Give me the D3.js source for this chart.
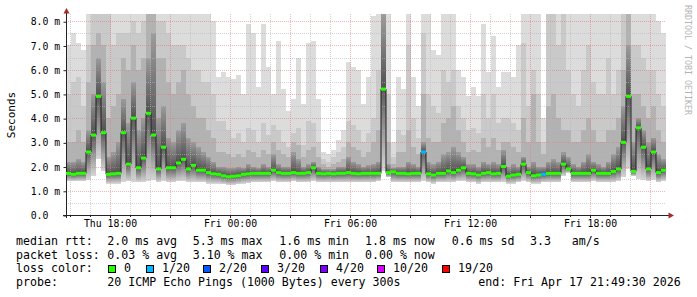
<!DOCTYPE html>
<html>
<head>
<meta charset="utf-8">
<script src="https://cdn.jsdelivr.net/npm/d3@7"></script>
<style>
body{margin:0;background:#fff}
svg{display:block}
text{font-family:"DejaVu Sans Mono",monospace;white-space:pre}
</style>
</head>
<body>
<div id="grafica"></div>
<script>
// periodo de la grafica: 30 h, columnas de 15 min
var inicio=new Date(2026,3,16,15,49,30), fin=new Date(2026,3,17,21,49,30);
var paso=15;

// mediana del rtt (ms) por columna
var mediana=[1.72,1.68,1.72,1.72,2.6,3.3,4.9,3.4,1.68,1.7,
	1.72,3.4,2.1,4.0,1.95,2.35,4.2,3.3,1.9,2.8,
	1.95,1.95,2.15,2.3,1.9,2.05,1.85,1.85,1.75,1.7,
	1.68,1.62,1.58,1.6,1.62,1.68,1.7,1.72,1.72,1.72,
	1.72,1.85,1.75,1.72,1.72,1.75,1.72,1.72,1.75,1.95,
	1.72,1.7,1.72,1.7,1.72,1.72,1.75,1.72,1.7,1.72,
	1.72,1.72,1.72,5.2,1.75,1.78,1.72,1.72,1.7,1.72,
	1.72,2.6,1.7,1.65,1.72,1.72,1.82,1.75,1.85,1.95,
	1.72,1.7,1.65,1.72,1.75,1.7,1.72,2.0,1.6,1.65,
	1.68,2.1,1.75,1.62,1.65,1.68,1.72,1.72,1.72,2.1,
	1.9,1.72,1.72,1.72,1.72,1.85,1.72,1.72,1.72,1.8,
	1.9,3.0,4.9,1.8,3.6,2.8,1.9,2.6,1.75,1.85];

// ping mas rapido
var minimo=[1.4,1.4,1.4,1.4,1.45,1.6,2.3,1.8,1.3,1.3,
	1.3,1.35,1.4,1.35,1.35,1.35,1.4,1.45,1.35,1.4,
	1.35,1.35,1.4,1.4,1.35,1.35,1.35,1.35,1.3,1.3,
	1.3,1.28,1.25,1.25,1.28,1.3,1.32,1.35,1.35,1.35,
	1.35,1.4,1.35,1.35,1.35,1.4,1.35,1.35,1.35,1.4,
	1.35,1.35,1.35,1.35,1.35,1.35,1.35,1.35,1.35,1.35,
	1.35,1.35,1.4,1.8,1.55,1.35,1.35,1.35,1.35,1.35,
	1.35,1.4,1.35,1.3,1.35,1.35,1.35,1.35,1.4,1.4,
	1.35,1.35,1.3,1.35,1.35,1.35,1.35,1.35,1.3,1.3,
	1.35,1.4,1.35,1.3,1.3,1.35,1.35,1.35,1.35,1.6,
	1.75,1.35,1.35,1.35,1.35,1.4,1.35,1.35,1.35,1.35,
	1.4,1.55,1.9,1.6,1.5,1.45,1.4,1.45,1.35,1.4];

// humo: bordes superiores de las bandas (oscura, media, clara, maximo)
var humo1=[2.2,2.2,2.3,2.2,3.5,5.0,6.5,5.5,2.4,2.6,
	3.0,4.8,3.8,5.5,3.5,4.0,6.5,7.5,4.0,4.5,
	3.2,3.0,3.5,3.8,3.2,3.0,2.8,2.6,2.4,2.2,
	2.0,2.0,1.95,1.95,2.0,1.95,2.1,2.0,1.95,2.1,
	2.0,2.5,2.1,2.0,2.0,2.6,2.3,2.0,2.1,2.2,
	2.0,1.9,1.9,1.9,2.0,2.0,2.4,2.2,2.1,2.0,
	2.05,2.1,2.2,8.3,2.1,1.95,2.0,2.0,2.2,2.1,
	2.0,3.0,2.2,2.1,2.2,2.5,2.6,2.8,2.6,2.4,
	2.1,2.1,2.0,2.2,2.1,2.2,2.1,2.7,2.0,2.1,
	2.0,2.4,2.0,2.2,2.0,2.0,2.2,2.3,2.2,2.6,
	2.4,2.1,2.0,2.2,2.5,2.2,2.1,2.0,2.2,2.5,
	2.8,4.5,7.0,3.0,4.0,3.5,3.0,3.2,2.5,2.3];

var humo2=[3.0,3.0,3.5,3.0,5.5,7.0,7.5,7.0,4.0,4.5,
	5.0,6.5,6.0,7.0,6.0,6.5,8.3,8.3,6.5,6.5,
	5.5,5.0,5.5,6.0,5.0,4.5,4.0,4.0,3.5,3.2,
	2.6,2.6,2.5,2.4,2.5,2.4,2.7,2.6,2.4,2.7,
	2.5,3.0,2.7,2.5,2.4,3.0,2.9,2.4,2.7,2.8,
	2.4,2.1,2.0,2.1,2.2,2.3,3.0,2.8,2.7,2.4,
	2.6,3.0,3.5,8.3,3.0,2.1,2.6,2.6,3.5,2.8,
	2.5,5.0,3.2,3.0,3.0,3.8,4.0,4.5,3.5,3.0,
	2.6,2.7,2.6,3.2,2.8,3.2,2.7,3.0,3.0,2.8,
	2.6,4.0,3.0,5.0,3.0,2.5,4.5,5.0,4.0,3.5,
	3.5,3.0,3.0,3.5,4.0,3.5,3.0,3.0,3.5,3.5,
	4.0,6.0,8.3,5.0,5.0,4.5,4.0,4.5,3.5,3.0];

var humo3=[5.0,5.5,5.7,4.5,7.0,8.3,8.3,8.3,8.3,7.0,
	7.5,7.5,7.5,8.0,7.5,8.0,8.3,8.3,8.0,8.0,
	7.5,7.0,7.0,7.0,6.5,6.0,6.0,5.5,5.5,5.0,
	3.9,3.9,3.5,3.2,3.4,3.0,3.6,3.5,3.0,3.8,
	3.3,3.7,3.5,3.0,2.8,3.4,3.6,2.9,3.9,3.8,
	3.0,2.3,2.2,2.4,2.6,2.8,3.9,3.7,3.5,3.0,
	3.4,4.0,6.0,8.3,5.0,2.4,3.5,3.3,7.0,4.0,
	3.2,7.5,5.0,4.5,4.2,6.0,5.5,6.0,4.5,4.0,
	3.5,3.6,3.4,5.0,4.0,5.0,3.8,4.0,4.0,3.8,
	3.5,7.1,4.5,6.0,5.0,3.0,8.3,8.3,7.0,8.3,
	6.0,5.0,4.5,6.0,7.0,5.5,5.0,5.0,6.5,5.0,
	6.0,8.3,8.3,7.0,7.0,6.5,6.0,6.0,5.0,4.5];

var maximo=[7.0,7.5,7.1,6.8,8.3,8.3,8.3,8.3,8.3,8.3,
	8.3,8.3,8.3,8.3,8.3,8.3,8.3,8.3,8.3,8.3,
	8.3,8.3,8.3,8.3,8.3,8.3,8.3,8.3,8.3,8.0,
	5.7,5.9,5.7,5.6,5.8,5.0,7.9,7.5,5.3,7.9,
	6.1,5.0,7.2,5.2,4.3,4.8,6.5,4.6,7.1,7.2,
	4.8,2.6,2.5,2.7,3.1,3.5,6.3,6.1,6.0,4.6,
	5.7,8.2,8.3,8.3,8.3,3.0,5.7,5.2,8.3,5.7,
	4.5,8.3,8.3,6.8,6.6,8.3,8.3,8.3,6.0,5.7,
	4.9,5.3,4.9,7.9,5.9,7.4,5.3,5.9,5.9,5.7,
	7.0,8.3,8.3,8.3,8.3,4.0,8.3,8.3,8.3,8.3,
	8.3,8.3,8.3,8.3,8.3,8.3,8.3,8.3,8.3,8.3,
	8.3,8.3,8.3,8.3,8.3,8.3,8.3,8.3,8.0,7.5];

// pings perdidos (de 20) por columna
var perdidos=[0,0,0,0,0,0,0,0,0,0, 0,0,0,0,0,0,0,0,0,0, 0,0,0,0,0,0,0,0,0,0,
	0,0,0,0,0,0,0,0,0,0, 0,0,0,0,0,0,0,0,0,0, 0,0,0,0,0,0,0,0,0,0,
	0,0,0,0,0,0,0,0,0,0, 0,1,0,0,0,0,0,0,0,0, 0,0,0,0,0,0,0,0,0,0,
	0,0,0,0,0,1,0,0,0,0, 0,0,0,0,0,0,0,0,0,0, 0,0,0,0,0,0,0,0,0,0];

var ticksY=[0,1,2,3,4,5,6,7,8];
var ticksX=[new Date(2026,3,16,18),new Date(2026,3,17,0),new Date(2026,3,17,6),new Date(2026,3,17,12),new Date(2026,3,17,18)];

var perdidaUmbral=[0,1,2,3,4,10,19];
var perdidaEtiq=["0","1/20","2/20","3/20","4/20","10/20","19/20"];
var perdidaColor=["#26ff00","#00b8ff","#0059ff","#5e00ff","#7e00ff","#dd00ff","#ff0000"];

var rttStats=["2.0 ms avg","5.3 ms max","1.6 ms min","1.8 ms now","0.6 ms sd","3.3","am/s"];
var perdidaStats=["0.03 % avg","3.10 % max","0.00 % min","0.00 % now"];
var sonda="20 ICMP Echo Pings (1000 Bytes) every 300s";
var finTexto="end: Fri Apr 17 21:49:30 2026";

grafica();
function grafica(){
	var ancho=697, alto=297;
	var svg=d3.select("#grafica").append("svg")
		.attr("width",ancho).attr("height",alto)
		.style("background","#fff");

	var x=d3.scaleTime().domain([inicio,fin]).range([66,666]);
	var y=d3.scaleLinear().domain([0,8.3]).range([215,14]).clamp(true);
	var xi=function(i){return x(d3.timeMinute.offset(inicio,i*paso))};

	var defs=svg.append("defs");
	var degradado=function(id,arriba,abajo){
		var g=defs.append("linearGradient").attr("id",id)
			.attr("x1",0).attr("y1",0).attr("x2",0).attr("y2",1);
		g.append("stop").attr("offset","0%").attr("stop-color",arriba);
		g.append("stop").attr("offset","100%").attr("stop-color",abajo);
	};
	degradado("bajo","#5a5a5a","#d6d6d6");
	degradado("alto","#9c9c9c","#505050");

	//bandas de humo
	var bandas=[
		{de:minimo,a:mediana,color:"url(#bajo)"},
		{de:mediana,a:humo1,color:"url(#alto)"},
		{de:humo1,a:humo2,color:"#b2b2b2"},
		{de:humo2,a:humo3,color:"#c9c9c9"},
		{de:humo3,a:maximo,color:"#dcdcdc"}
	];
	bandas.forEach(function(b){
		svg.append("g").selectAll("rect")
			.data(mediana)
			.enter()
			.append("rect")
			.attr("x",(d,i)=>xi(i))
			.attr("width",(d,i)=>xi(i+1)-xi(i))
			.attr("y",(d,i)=>y(b.a[i]))
			.attr("height",(d,i)=>Math.max(0,y(b.de[i])-y(b.a[i])))
			.attr("fill",b.color)
			.attr("shape-rendering","crispEdges")
	});

	//rejilla
	var rejilla=svg.append("g").attr("shape-rendering","crispEdges");
	d3.range(0.5,8.01,0.5).forEach(function(v){
		var yy=Math.round(y(v))+0.5;
		rejilla.append("line").attr("x1",66).attr("x2",666).attr("y1",yy).attr("y2",yy)
			.attr("stroke",v%1==0?"#e07878":"#b8b8b8").attr("stroke-opacity",v%1==0?0.55:0.6)
			.attr("stroke-dasharray","1,1");
	});
	d3.timeHour.range(inicio,fin).forEach(function(t){
		var xx=Math.round(x(t))+0.5;
		var mayor=t.getHours()%3==0;
		rejilla.append("line").attr("x1",xx).attr("x2",xx).attr("y1",14).attr("y2",215)
			.attr("stroke",mayor?"#e07878":"#b8b8b8").attr("stroke-opacity",mayor?0.55:0.6)
			.attr("stroke-dasharray","1,1");
		rejilla.append("line").attr("x1",xx).attr("x2",xx).attr("y1",215).attr("y2",mayor?218:217)
			.attr("stroke","#222");
	});

	//ejes
	var ejeY=svg.append("g").attr("transform","translate(66.5,0.5)")
		.call(d3.axisLeft(y).tickValues(ticksY).tickSize(3).tickSizeOuter(0)
			.tickFormat(d=>d==0?"0.0":d.toFixed(1)+" m"));
	ejeY.select(".domain").remove();
	ejeY.selectAll("line").attr("stroke","#222");
	ejeY.selectAll("text").attr("text-anchor","start").attr("x",30.7-66.5)
		.style("font-size","9.8px").style("font-family","DejaVu Sans Mono").attr("fill","#000");

	var ejeX=svg.append("g").attr("transform","translate(0.5,215)")
		.call(d3.axisBottom(x).tickValues(ticksX).tickSize(0).tickPadding(5.5)
			.tickFormat(d3.timeFormat("%a %H:%M")));
	ejeX.select(".domain").remove();
	ejeX.selectAll("text").style("font-size","9.8px").style("font-family","DejaVu Sans Mono").attr("fill","#000");

	svg.append("line").attr("x1",66.5).attr("x2",66.5).attr("y1",218).attr("y2",12).attr("stroke","#222");
	svg.append("line").attr("x1",63).attr("x2",670).attr("y1",215.5).attr("y2",215.5).attr("stroke","#222");
	svg.append("path").attr("d","M63.5,13.5L69.5,13.5L66.5,8Z").attr("fill","#a52a2a");
	svg.append("path").attr("d","M668.5,212.5L668.5,218.5L674,215.5Z").attr("fill","#a52a2a");

	//mediana
	var linea=d3.line().x((d,i)=>xi(i)).y(d=>y(d)).curve(d3.curveStepAfter);
	svg.append("path").datum(mediana.concat([mediana[mediana.length-1]]))
		.attr("d",linea).attr("fill","none").attr("stroke","#202020").attr("stroke-width",1);
	var colorPerdida=function(n){
		var c=perdidaColor[0];
		perdidaUmbral.forEach((u,k)=>{if(n>=u) c=perdidaColor[k]});
		return c;
	};
	svg.append("g").selectAll("rect")
		.data(mediana)
		.enter()
		.append("rect")
		.attr("x",(d,i)=>xi(i))
		.attr("width",(d,i)=>xi(i+1)-xi(i))
		.attr("y",d=>y(d)-1.5)
		.attr("height",3)
		.attr("fill",(d,i)=>colorPerdida(perdidos[i]));

	//textos
	svg.append("text").attr("transform","translate(14.5,115) rotate(-90)")
		.attr("text-anchor","middle").style("font-size","11px").text("Seconds");
	svg.append("text").attr("transform","translate(684.5,5) rotate(90)")
		.style("font-size","8.3px").attr("fill","#b4b4b4").text("RRDTOOL / TOBI OETIKER");

	var ley=svg.append("g").style("font-size","11.6px").attr("fill","#000");
	var colsStats=[107.3,192.7,279.3,365,451.7,530,571.7];
	ley.append("text").attr("x",16).attr("y",245).text("median rtt:");
	rttStats.forEach((s,k)=>ley.append("text").attr("x",colsStats[k]).attr("y",245).text(s));
	ley.append("text").attr("x",16).attr("y",258.7).text("packet loss:");
	perdidaStats.forEach((s,k)=>ley.append("text").attr("x",colsStats[k]).attr("y",258.7).text(s));
	ley.append("text").attr("x",16).attr("y",272.4).text("loss color:");
	var colsCaja=[108.5,146.5,203.5,261.5,320.5,377.5,442.5];
	perdidaEtiq.forEach(function(s,k){
		ley.append("rect").attr("x",colsCaja[k]).attr("y",265.5).attr("width",7).attr("height",7)
			.attr("fill",perdidaColor[k]).attr("stroke","#000").attr("stroke-width",1);
		ley.append("text").attr("x",colsCaja[k]+15.5).attr("y",272.4).text(s);
	});
	ley.append("text").attr("x",16).attr("y",286).text("probe:");
	ley.append("text").attr("x",107.3).attr("y",286).text(sonda);
	ley.append("text").attr("x",478.3).attr("y",286).text(finTexto);
}
</script>
</body>
</html>
